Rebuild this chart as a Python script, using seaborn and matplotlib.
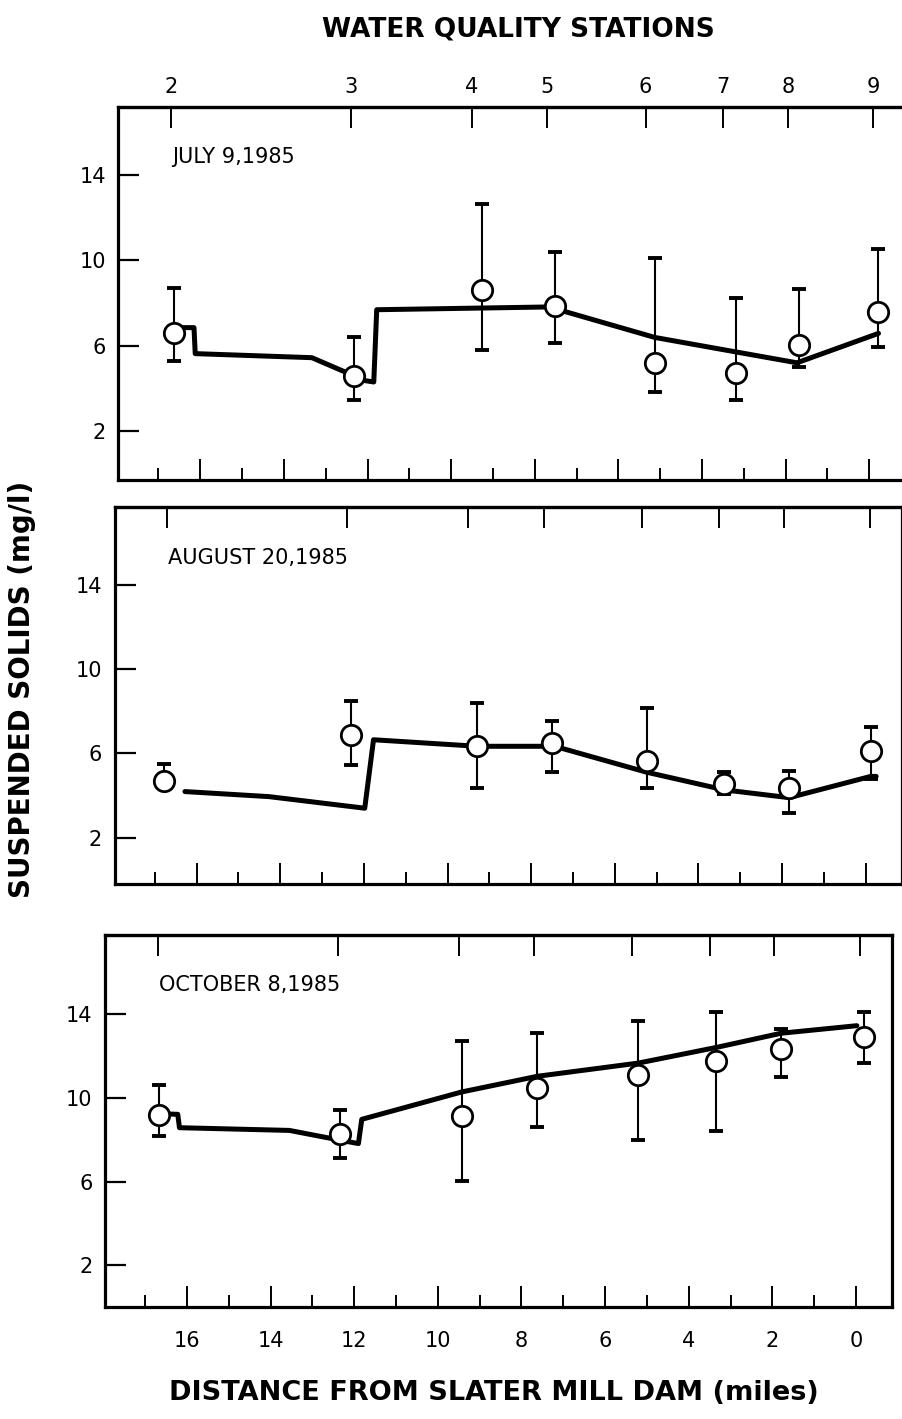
import numpy as np
import pandas as pd
import seaborn as sns
import matplotlib
matplotlib.use("Agg")
import matplotlib.pyplot as plt
from matplotlib.ticker import FixedLocator

# water quality stations (top axis) and their distance from the dam (miles)
station_labels = ['2', '3', '4', '5', '6', '7', '8', '9']
station_dist = [16.7, 12.4, 9.5, 7.7, 5.35, 3.5, 1.95, -0.1]

# July 9, 1985
jul_x = [16.63, 12.32, 9.27, 7.51, 5.13, 3.19, 1.67, -0.22]
jul_mean = [6.6, 4.6, 8.6, 7.85, 5.2, 4.7, 6.05, 7.6]
jul_hi = [8.7, 6.4, 12.65, 10.4, 10.1, 8.25, 8.65, 10.55]
jul_lo = [5.3, 3.45, 5.8, 6.15, 3.85, 3.45, 5.0, 5.95]
jul_model_x = [16.63, 16.15, 16.12, 13.33, 12.05, 11.85, 11.78, 7.66, 5.13, 3.19, 1.73, -0.22]
jul_model_y = [6.85, 6.85, 5.63, 5.44, 4.36, 4.3, 7.69, 7.82, 6.39, 5.71, 5.20, 6.58]

# August 20, 1985
aug_x = [16.77, 12.32, 9.29, 7.5, 5.22, 3.38, 1.83, -0.12]
aug_mean = [4.67, 6.89, 6.34, 6.5, 5.62, 4.54, 4.35, 6.13]
aug_hi = [5.49, 8.48, 8.40, 7.56, 8.17, 5.14, 5.18, 7.24]
aug_lo = [4.67, 5.46, 4.38, 5.14, 4.38, 4.06, 3.16, 4.78]
aug_model_x = [16.28, 14.27, 11.98, 11.77, 9.29, 7.44, 5.24, 3.38, 1.83, -0.12, -0.25]
aug_model_y = [4.19, 3.95, 3.40, 6.65, 6.34, 6.34, 5.11, 4.27, 3.90, 4.91, 4.91]

# October 8, 1985
oct_x = [16.67, 12.33, 9.43, 7.62, 5.21, 3.34, 1.79, -0.18]
oct_mean = [9.21, 8.29, 9.13, 10.48, 11.08, 11.78, 12.34, 12.94]
oct_hi = [10.64, 9.45, 12.73, 13.10, 13.68, 14.13, 13.30, 14.13]
oct_lo = [8.18, 7.15, 6.04, 8.61, 7.99, 8.42, 11.00, 11.67]
oct_model_x = [16.67, 16.22, 16.18, 13.55, 12.33, 11.9, 11.82, 9.43, 7.62, 5.21, 3.34, 1.79, -0.02]
oct_model_y = [9.25, 9.22, 8.58, 8.45, 7.98, 7.82, 8.98, 10.29, 11.04, 11.67, 12.42, 13.10, 13.46]

dates = ['JULY 9,1985', 'AUGUST 20,1985', 'OCTOBER 8,1985']

sns.set_theme(style='white')
plt.rcParams['font.family'] = ['DejaVu Sans']
plt.rcParams['text.color'] = 'black'
plt.rcParams['xtick.color'] = 'black'
plt.rcParams['ytick.color'] = 'black'
plt.rcParams['axes.labelcolor'] = 'black'

fig = plt.figure(figsize=(9.03, 14.19), dpi=100)
# skewed scan: each panel slightly offset
boxes = [[0.131, 0.6617, 0.8715, 0.2629],
         [0.127, 0.3770, 0.8715, 0.2657],
         [0.1163, 0.0789, 0.8715, 0.2622]]
ylims = [(-0.3, 17.2), (-0.2, 17.7), (0.0, 17.8)]

panels = [
    (jul_x, jul_mean, jul_hi, jul_lo, jul_model_x, jul_model_y),
    (aug_x, aug_mean, aug_hi, aug_lo, aug_model_x, aug_model_y),
    (oct_x, oct_mean, oct_hi, oct_lo, oct_model_x, oct_model_y),
]

for i, (px, pm, ph, pl, mx, my) in enumerate(panels):
    ax = fig.add_axes(boxes[i])
    model = pd.DataFrame({'dist': mx, 'ss': my})
    obs = pd.DataFrame({'dist': px, 'ss': pm})

    sns.lineplot(data=model, x='dist', y='ss', sort=False, estimator=None,
                 color='black', lw=3.6, ax=ax, zorder=2)
    yerr = [np.array(pm) - np.array(pl), np.array(ph) - np.array(pm)]
    ax.errorbar(px, pm, yerr=yerr, fmt='none', ecolor='black',
                elinewidth=1.5, capsize=4.7, capthick=2.8, zorder=3)
    sns.scatterplot(data=obs, x='dist', y='ss', marker='o', s=215,
                    facecolor='white', edgecolor='black', linewidth=2,
                    ax=ax, zorder=4)

    ax.set_xlim(17.96, -0.86)
    ax.set_ylim(*ylims[i])
    ax.set_xlabel('')
    ax.set_ylabel('')

    for sp in ['left', 'bottom', 'top', 'right']:
        ax.spines[sp].set_visible(True)
        ax.spines[sp].set_color('black')
        ax.spines[sp].set_linewidth(2.3)

    ax.yaxis.set_major_locator(FixedLocator([2, 6, 10, 14]))
    ax.xaxis.set_major_locator(FixedLocator(np.arange(0, 17, 2)))
    ax.xaxis.set_minor_locator(FixedLocator(np.arange(1, 18, 2)))
    ax.tick_params(axis='y', direction='in', length=15, width=1.6,
                   left=True, right=False, labelsize=15, pad=9)
    ax.tick_params(axis='x', which='major', direction='in', length=15,
                   width=1.4, bottom=True, top=False, labelsize=15, pad=17)
    ax.tick_params(axis='x', which='minor', direction='in', length=9,
                   width=1.4, bottom=True, top=False)
    if i == 2:
        ax.set_xticklabels([str(v) for v in range(0, 17, 2)])
    else:
        ax.set_xticklabels([])

    sec = ax.secondary_xaxis('top')
    sec.set_xticks(station_dist)
    sec.tick_params(direction='in', length=15, width=1.4, labelsize=15, pad=7,
                    colors='black')
    sec.spines['top'].set_linewidth(2.3)
    if i == 0:
        sec.set_xticklabels(station_labels)
    else:
        sec.set_xticklabels([])

    ax.text(0.068, 0.865, dates[i], transform=ax.transAxes, fontsize=15,
            ha='left', va='center', color='black')

fig.text(0.574, 0.979, 'WATER QUALITY STATIONS', ha='center', va='center',
         fontsize=19, fontweight='bold', color='black')
fig.text(0.024, 0.514, 'SUSPENDED SOLIDS (mg/l)', ha='center', va='center',
         rotation=90, fontsize=20, fontweight='bold', color='black')
fig.text(0.547, 0.018, 'DISTANCE FROM SLATER MILL DAM (miles)', ha='center',
         va='center', fontsize=19.5, fontweight='bold', color='black')

fig.savefig('out.png', dpi=100, facecolor='white')
